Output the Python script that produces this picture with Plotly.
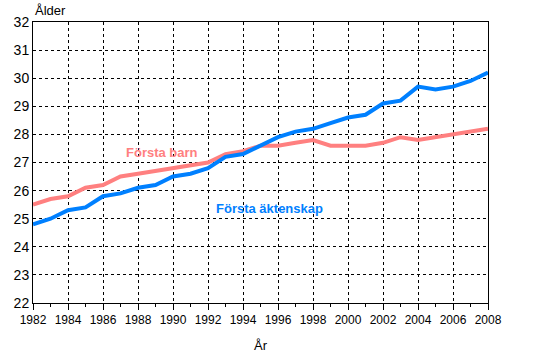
import plotly.graph_objects as go

years = list(range(1982, 2009))
forsta_barn = [25.5, 25.7, 25.8, 26.1, 26.2, 26.5, 26.6, 26.7, 26.8, 26.9, 27.0, 27.3, 27.4,
               27.6, 27.6, 27.7, 27.8, 27.6, 27.6, 27.6, 27.7, 27.9, 27.8, 27.9, 28.0, 28.1, 28.2]
forsta_aktenskap = [24.8, 25.0, 25.3, 25.4, 25.8, 25.9, 26.1, 26.2, 26.5, 26.6, 26.8, 27.2, 27.3,
                    27.6, 27.9, 28.1, 28.2, 28.4, 28.6, 28.7, 29.1, 29.2, 29.7, 29.6, 29.7, 29.9, 30.2]
x_ticks = list(range(1982, 2009, 2))
y_ticks = list(range(22, 33))

PINK = "#FF8080"
BLUE = "#0080FF"
FONT = "Liberation Sans, Arial, sans-serif"

fig = go.Figure()
fig.add_trace(go.Scatter(x=years, y=forsta_barn, mode="lines",
                         line=dict(color=PINK, width=4), name="Första barn"))
fig.add_trace(go.Scatter(x=years, y=forsta_aktenskap, mode="lines",
                         line=dict(color=BLUE, width=4), name="Första äktenskap"))

fig.update_layout(
    width=560, height=353,
    margin=dict(l=33, r=72, t=22, b=50),
    paper_bgcolor="white", plot_bgcolor="white",
    showlegend=False,
    font=dict(family=FONT, size=12, color="black"),
    xaxis=dict(range=[1982, 2008], tickmode="array", tickvals=x_ticks,
               showline=True, linecolor="black", linewidth=1, mirror=True,
               showgrid=True, gridcolor="black", gridwidth=1, griddash="3px,3px",
               ticks="outside", ticklen=6, tickcolor="black",
               minor=dict(dtick=1, ticks="outside", ticklen=3, tickcolor="black", showgrid=False),
               zeroline=False, tickfont=dict(size=12)),
    yaxis=dict(range=[22, 32], tickmode="array", tickvals=y_ticks,
               showline=True, linecolor="black", linewidth=1, mirror=True,
               showgrid=True, gridcolor="black", gridwidth=1, griddash="3px,3px",
               ticks="", zeroline=False, tickfont=dict(size=14)),
    annotations=[
        dict(text="Ålder", xref="paper", yref="paper", x=0, y=1, xanchor="left", yanchor="bottom",
             yshift=2, showarrow=False, font=dict(size=13)),
        dict(text="År", xref="paper", yref="paper", x=0.5, y=0, xanchor="center", yanchor="top",
             yshift=-33, showarrow=False, font=dict(size=13)),
        dict(text="<b>Första barn</b>", x=1989.35, y=27.37, xref="x", yref="y",
             xanchor="center", yanchor="middle",
             showarrow=False, font=dict(size=13, color=PINK)),
        dict(text="<b>Första äktenskap</b>", x=1995.5, y=25.38, xref="x", yref="y",
             xanchor="center", yanchor="middle",
             showarrow=False, font=dict(size=13, color=BLUE)),
    ],
)

fig.write_html("out.html")
